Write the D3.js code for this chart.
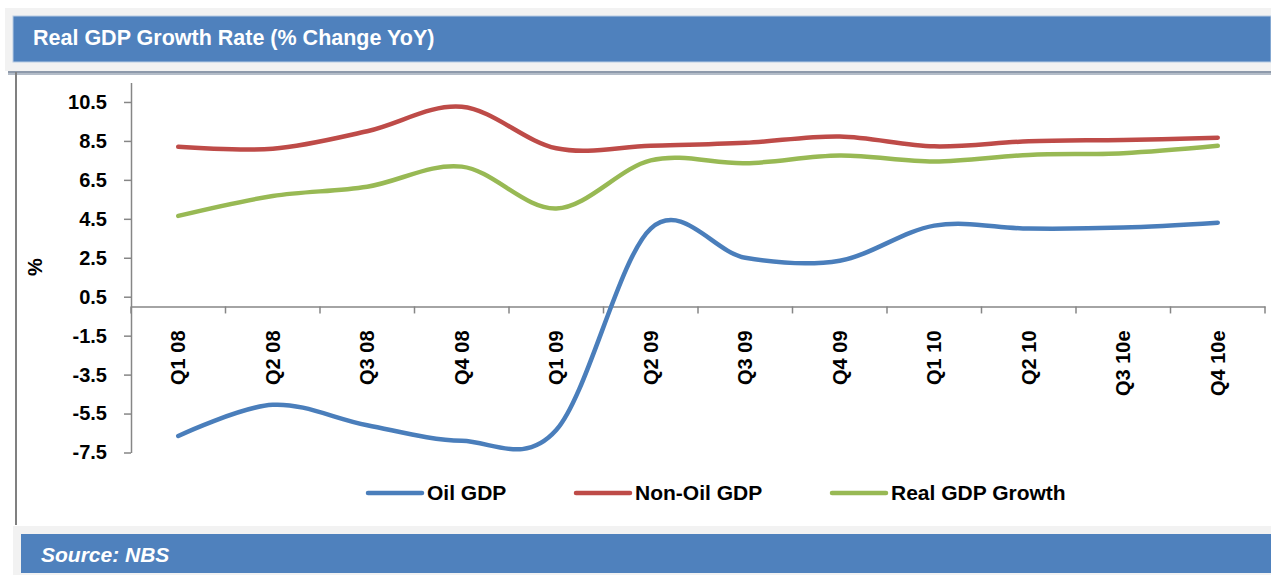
<!DOCTYPE html>
<html>
<head>
<meta charset="utf-8">
<script src="https://cdn.jsdelivr.net/npm/d3@7"></script>
<style>
  html, body { margin: 0; padding: 0; background: #ffffff; }
  svg { display: block; font-family: "Liberation Sans", Arial, sans-serif; }
</style>
</head>
<body>
<svg id="chart" width="1271" height="575"></svg>
<script>
// Quarterly real GDP growth, % change year on year
const categories = ["Q1 08", "Q2 08", "Q3 08", "Q4 08", "Q1 09", "Q2 09",
                    "Q3 09", "Q4 09", "Q1 10", "Q2 10", "Q3 10e", "Q4 10e"];
const oilGdp    = [-6.65, -5.05, -6.1, -6.9, -6.35, 4.0, 2.5, 2.35, 4.15, 4.0, 4.05, 4.3];
const nonOilGdp = [8.2, 8.1, 9.0, 10.25, 8.12, 8.25, 8.4, 8.73, 8.22, 8.48, 8.55, 8.66];
const realGdp   = [4.65, 5.67, 6.15, 7.18, 5.03, 7.5, 7.35, 7.75, 7.44, 7.78, 7.87, 8.25];
const seriesNames = ["Oil GDP", "Non-Oil GDP", "Real GDP Growth"];
const yTickValues = [-7.5, -5.5, -3.5, -1.5, 0.5, 2.5, 4.5, 6.5, 8.5, 10.5];
const yDomain = [-7.5, 11.5];

const colors = ["#4a7ebb", "#be4b48", "#98b954"];
const series = [oilGdp, nonOilGdp, realGdp];

const svg = d3.select("#chart");
const W = 1271, H = 575;
const FONT = "\"Liberation Sans\", Arial, sans-serif";

// ---- header band ----
svg.append("rect").attr("x", 5).attr("y", 8).attr("width", W - 5).attr("height", 63).attr("fill", "#f2f2f2");
svg.append("rect").attr("x", 13).attr("y", 16).attr("width", W - 13).attr("height", 46)
  .attr("fill", "#4f81bd").attr("stroke", "#b8cce4").attr("stroke-width", 1);
svg.append("text").attr("x", 33).attr("y", 45)
  .attr("fill", "#ffffff").attr("font-weight", "bold").attr("font-size", 21.5)
  .text("Real GDP Growth Rate (% Change YoY)");
svg.append("rect").attr("x", 8).attr("y", 71).attr("width", W - 8).attr("height", 2).attr("fill", "#8e9aab");
svg.append("rect").attr("x", 8).attr("y", 73).attr("width", W - 8).attr("height", 2).attr("fill", "#b3bcc8");

// left frame line of the chart panel
svg.append("line").attr("x1", 16).attr("x2", 16).attr("y1", 72).attr("y2", 525)
  .attr("stroke", "#808080").attr("stroke-width", 2);

// ---- footer band ----
svg.append("rect").attr("x", 13).attr("y", 526).attr("width", W - 13).attr("height", 49).attr("fill", "#f2f2f2");
svg.append("rect").attr("x", 21).attr("y", 534).attr("width", W - 21).attr("height", 39).attr("fill", "#4f81bd");
svg.append("text").attr("x", 41).attr("y", 562)
  .attr("fill", "#ffffff").attr("font-weight", "bold").attr("font-style", "italic").attr("font-size", 21)
  .text("Source: NBS");

// ---- scales ----
const x = d3.scaleBand().domain(categories).range([131, 1265]).padding(0);
const y = d3.scaleLinear().domain(yDomain).range([452.5, 82.5]);
const axisColor = "#868686";

// y axis (plain hyphen for negatives)
const yAxis = svg.append("g").attr("transform", "translate(131,0)")
  .call(d3.axisLeft(y).tickValues(yTickValues).tickFormat(d => d.toFixed(1))
        .tickSizeInner(7).tickSizeOuter(0).tickPadding(17));
yAxis.select(".domain").attr("stroke", axisColor).attr("stroke-width", 1.5);
yAxis.selectAll(".tick line").attr("stroke", axisColor).attr("stroke-width", 1.5);
yAxis.selectAll(".tick text").attr("fill", "#000").attr("font-size", 20).attr("font-weight", "bold")
  .attr("font-family", FONT);

svg.append("text").attr("transform", "translate(35,267) rotate(-90)")
  .attr("text-anchor", "middle").attr("dy", "0.35em")
  .attr("font-size", 20).attr("font-weight", "bold").attr("fill", "#000").text("%");

// x axis crossing at zero
const y0 = y(0);
const xAxis = svg.append("g").attr("transform", `translate(0,${y0})`)
  .call(d3.axisBottom(x).tickSize(0).tickSizeOuter(0).tickPadding(0));
xAxis.select(".domain").attr("stroke", axisColor).attr("stroke-width", 1.5);
xAxis.selectAll(".tick text")
  .attr("transform", "translate(0,24) rotate(-90)")
  .attr("text-anchor", "end").attr("x", 0).attr("y", 0).attr("dy", "0.35em")
  .attr("fill", "#000").attr("font-size", 20).attr("font-weight", "bold")
  .attr("font-family", FONT);

// tick marks at category boundaries
const boundaries = categories.map(c => x(c)).concat([x.range()[1]]);
svg.append("g").selectAll("line").data(boundaries).join("line")
  .attr("x1", d => d).attr("x2", d => d)
  .attr("y1", y0).attr("y2", y0 + 7)
  .attr("stroke", axisColor).attr("stroke-width", 1.5);

// ---- smoothed series lines ----
const line = d3.line()
  .x((d, i) => x(categories[i]) + x.bandwidth() / 2)
  .y(d => y(d))
  .curve(d3.curveCardinal.tension(0));

svg.append("g").selectAll("path").data(series).join("path")
  .attr("d", d => line(d))
  .attr("fill", "none")
  .attr("stroke", (d, i) => colors[i])
  .attr("stroke-width", 4.5)
  .attr("stroke-linecap", "round")
  .attr("stroke-linejoin", "round");

// ---- legend ----
const legendY = 493;
const legendX = [368, 576, 832];
const legend = svg.append("g").selectAll("g").data(seriesNames).join("g")
  .attr("transform", (d, i) => `translate(${legendX[i]},${legendY})`);
legend.append("line").attr("x1", 0).attr("x2", 54).attr("y1", 0).attr("y2", 0)
  .attr("stroke", (d, i) => colors[i]).attr("stroke-width", 4.5).attr("stroke-linecap", "round");
legend.append("text").attr("x", 59).attr("y", 0).attr("dy", "0.35em")
  .attr("font-size", 21).attr("font-weight", "bold").attr("fill", "#000")
  .text(d => d);
</script>
</body>
</html>
